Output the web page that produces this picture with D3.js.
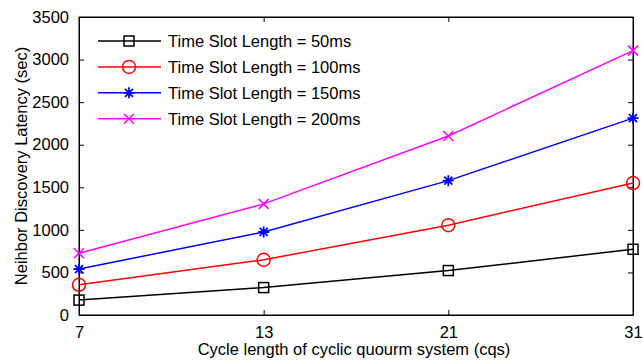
<!DOCTYPE html>
<html>
<head>
<meta charset="utf-8">
<script src="https://cdn.jsdelivr.net/npm/d3@7"></script>
<style>
  body { margin: 0; background: #fff; }
  text { font-family: "Liberation Sans", Arial, sans-serif; fill: #000; }
</style>
</head>
<body>
<div id="plot"></div>
<script>
// data
const cycleLengths = ["7", "13", "21", "31"];
const slot50 = [175, 322, 522, 772];
const slot100 = [355, 648, 1055, 1550];
const slot150 = [540, 975, 1578, 2312];
const slot200 = [725, 1305, 2103, 3105];
const seriesNames = ["Time Slot Length = 50ms", "Time Slot Length = 100ms",
  "Time Slot Length = 150ms", "Time Slot Length = 200ms"];
const yTicks = [0, 500, 1000, 1500, 2000, 2500, 3000, 3500];

const w = 643, h = 363;
const margin = { top: 17, right: 10, bottom: 48, left: 79 };
const innerWidth = w - margin.left - margin.right;
const innerHeight = h - margin.top - margin.bottom;

const series = [
  { name: seriesNames[0], values: slot50, color: "#000000", marker: "square" },
  { name: seriesNames[1], values: slot100, color: "#ff0000", marker: "circle" },
  { name: seriesNames[2], values: slot150, color: "#0000ff", marker: "star" },
  { name: seriesNames[3], values: slot200, color: "#ff00ff", marker: "cross" }
];

const svg = d3.select("#plot").append("svg")
  .attr("width", w).attr("height", h);

const g = svg.append("g")
  .attr("transform", `translate(${margin.left},${margin.top})`);

const xScale = d3.scalePoint().domain(cycleLengths).range([0, innerWidth]);
const yScale = d3.scaleLinear().domain([0, 3500]).range([innerHeight, 0]);

// axes, matlab style: ticks pointing inward on all four sides
g.append("g")
  .attr("transform", `translate(0,${innerHeight})`)
  .call(d3.axisBottom(xScale).tickSizeInner(-5).tickSizeOuter(0).tickPadding(11))
  .call(a => a.selectAll("text").style("font-size", "16.5px"));
g.append("g")
  .call(d3.axisTop(xScale).tickSizeInner(-5).tickSizeOuter(0).tickFormat(""));
g.append("g")
  .call(d3.axisLeft(yScale).tickValues(yTicks).tickFormat(d3.format("d"))
    .tickSizeInner(-5).tickSizeOuter(0).tickPadding(10))
  .call(a => a.selectAll("text").style("font-size", "16.5px"));
g.append("g")
  .attr("transform", `translate(${innerWidth},0)`)
  .call(d3.axisRight(yScale).tickValues(yTicks).tickSizeInner(-5).tickSizeOuter(0).tickFormat(""));
g.selectAll(".domain").attr("stroke", "#000");
g.selectAll(".tick line").attr("stroke", "#000");
g.selectAll(".tick text").attr("fill", "#000");

g.append("rect")
  .attr("width", innerWidth).attr("height", innerHeight)
  .attr("fill", "none").attr("stroke", "#000");

// axis labels
svg.append("text")
  .attr("x", 354)
  .attr("y", 355)
  .attr("text-anchor", "middle")
  .style("font-size", "16.5px")
  .text("Cycle length of cyclic quourm system (cqs)");
svg.append("text")
  .attr("transform", "translate(27,166) rotate(-90)")
  .attr("text-anchor", "middle")
  .style("font-size", "16.5px")
  .text("Neihbor Discovery Latency (sec)");

function drawMarker(sel, type, color) {
  if (type === "square") {
    sel.append("rect").attr("x", -5).attr("y", -5).attr("width", 10).attr("height", 10)
      .attr("fill", "none").attr("stroke", color).attr("stroke-width", 1.5);
  } else if (type === "circle") {
    sel.append("circle").attr("r", 6.5)
      .attr("fill", "none").attr("stroke", color).attr("stroke-width", 1.5);
  } else if (type === "star") {
    sel.append("path").attr("d", "M-5.5,0H5.5M0,-5.5V5.5M-4,-4L4,4M-4,4L4,-4")
      .attr("stroke", color).attr("stroke-width", 1.8);
  } else {
    sel.append("path").attr("d", "M-5,-5L5,5M-5,5L5,-5")
      .attr("stroke", color).attr("stroke-width", 1.5);
  }
}

const line = d3.line()
  .x((d, i) => xScale(cycleLengths[i]))
  .y(d => yScale(d));

series.forEach(s => {
  g.append("path")
    .datum(s.values)
    .attr("d", line)
    .attr("fill", "none")
    .attr("stroke", s.color)
    .attr("stroke-width", 1.5);
  g.selectAll(null)
    .data(s.values)
    .enter()
    .append("g")
    .attr("transform", (d, i) => `translate(${xScale(cycleLengths[i])},${yScale(d)})`)
    .each(function () { drawMarker(d3.select(this), s.marker, s.color); });
});

// legend
const legend = svg.append("g").attr("transform", "translate(98,41)");
series.forEach((s, i) => {
  const row = legend.append("g").attr("transform", `translate(0,${i * 25.9})`);
  row.append("line").attr("x1", 0).attr("x2", 63)
    .attr("stroke", s.color).attr("stroke-width", 1.5);
  drawMarker(row.append("g").attr("transform", "translate(31,0)"), s.marker, s.color);
  row.append("text").attr("x", 70).attr("y", 6)
    .style("font-size", "16.5px")
    .text(s.name);
});
</script>
</body>
</html>
